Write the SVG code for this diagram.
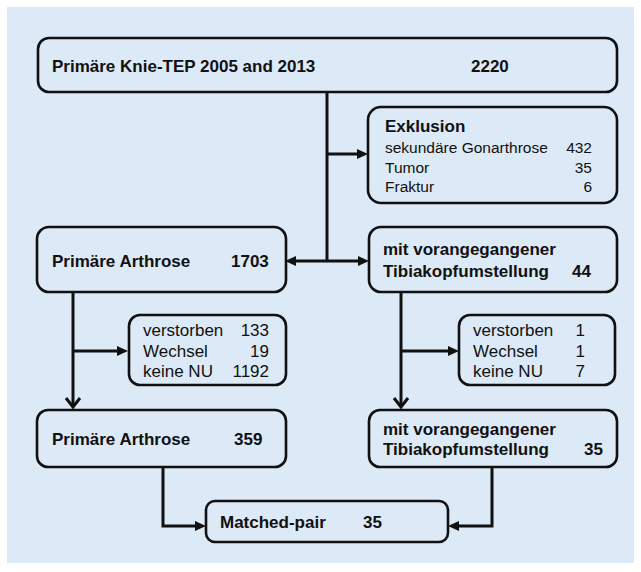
<svg xmlns="http://www.w3.org/2000/svg" width="641" height="572" viewBox="0 0 641 572">
<style>
.bg{fill:#dce9f6}
.box{fill:#dce9f6;stroke:#111;stroke-width:2.6}
.b{font-family:"Liberation Sans",Arial,sans-serif;font-weight:bold;font-size:17px;fill:#111}
.r{font-family:"Liberation Sans",Arial,sans-serif;font-size:15.5px;fill:#111}
.s{font-family:"Liberation Sans",Arial,sans-serif;font-size:17px;fill:#111}
.e{text-anchor:end}
.ln{fill:none;stroke:#111;stroke-width:3}
</style>
<defs>
<marker id="fa" viewBox="0 0 11 10" refX="3" refY="5" markerWidth="11" markerHeight="10" markerUnits="userSpaceOnUse" orient="auto-start-reverse">
<path d="M0,0 L11,5 L0,10 z" fill="#111"/>
</marker>
<marker id="oa" viewBox="0 0 14 18" refX="11" refY="9" markerWidth="14" markerHeight="18" markerUnits="userSpaceOnUse" orient="auto">
<path d="M2,2 L11,9 L2,16" fill="none" stroke="#111" stroke-width="3" stroke-linejoin="miter"/>
</marker>
</defs>
<rect class="bg" x="7" y="7" width="627" height="556"/>
<g id="connectors">
<line class="ln" x1="327" y1="92" x2="327" y2="261"/>
<line class="ln" x1="327" y1="154" x2="360" y2="154" marker-end="url(#fa)"/>
<line class="ln" x1="293" y1="261" x2="361" y2="261" marker-start="url(#fa)" marker-end="url(#fa)"/>
<line class="ln" x1="73" y1="292" x2="73" y2="407" marker-end="url(#oa)"/>
<line class="ln" x1="73" y1="351" x2="120" y2="351" marker-end="url(#fa)"/>
<line class="ln" x1="401" y1="292" x2="401" y2="407" marker-end="url(#oa)"/>
<line class="ln" x1="401" y1="351" x2="451" y2="351" marker-end="url(#fa)"/>
<path class="ln" d="M163,467 V526 H198" marker-end="url(#fa)"/>
<path class="ln" d="M492,467 V526 H456" marker-end="url(#fa)"/>
</g>
<g id="n1">
<rect class="box" x="38" y="38" width="579" height="54" rx="11"/>
<text class="b" x="52" y="72">Primäre Knie-TEP 2005 and 2013</text>
<text class="b" x="471" y="72">2220</text>
</g>
<g id="n2">
<rect class="box" x="368" y="107" width="249" height="96" rx="13"/>
<text class="b" x="385" y="132">Exklusion</text>
<text class="r" x="385" y="153">sekundäre Gonarthrose</text>
<text class="r e" x="592" y="153">432</text>
<text class="r" x="385" y="173">Tumor</text>
<text class="r e" x="592" y="173">35</text>
<text class="r" x="385" y="192">Fraktur</text>
<text class="r e" x="592" y="192">6</text>
</g>
<g id="n3">
<rect class="box" x="37" y="227" width="249" height="65" rx="12"/>
<text class="b" x="52" y="267">Primäre Arthrose</text>
<text class="b" x="231" y="267">1703</text>
</g>
<g id="n4">
<rect class="box" x="369" y="227" width="248" height="65" rx="12"/>
<text class="b" x="383" y="255">mit vorangegangener</text>
<text class="b" x="383" y="277">Tibiakopfumstellung</text>
<text class="b" x="572" y="277">44</text>
</g>
<g id="n5">
<rect class="box" x="129" y="315" width="157" height="70" rx="11"/>
<text class="s" x="143" y="336">verstorben</text>
<text class="s e" x="269" y="336">133</text>
<text class="s" x="143" y="357">Wechsel</text>
<text class="s e" x="269" y="357">19</text>
<text class="s" x="143" y="377">keine NU</text>
<text class="s e" x="269" y="377">1192</text>
</g>
<g id="n6">
<rect class="box" x="459" y="315" width="156" height="70" rx="11"/>
<text class="s" x="473" y="336">verstorben</text>
<text class="s e" x="585" y="336">1</text>
<text class="s" x="473" y="357">Wechsel</text>
<text class="s e" x="585" y="357">1</text>
<text class="s" x="473" y="377">keine NU</text>
<text class="s e" x="585" y="377">7</text>
</g>
<g id="n7">
<rect class="box" x="37" y="410" width="249" height="57" rx="11"/>
<text class="b" x="52" y="445">Primäre Arthrose</text>
<text class="b" x="234" y="445">359</text>
</g>
<g id="n8">
<rect class="box" x="369" y="410" width="248" height="57" rx="11"/>
<text class="b" x="383" y="435">mit vorangegangener</text>
<text class="b" x="383" y="455">Tibiakopfumstellung</text>
<text class="b" x="584" y="455">35</text>
</g>
<g id="n9">
<rect class="box" x="206" y="501" width="242" height="41" rx="9"/>
<text class="b" x="220" y="528">Matched-pair</text>
<text class="b" x="363" y="528">35</text>
</g>
</svg>
